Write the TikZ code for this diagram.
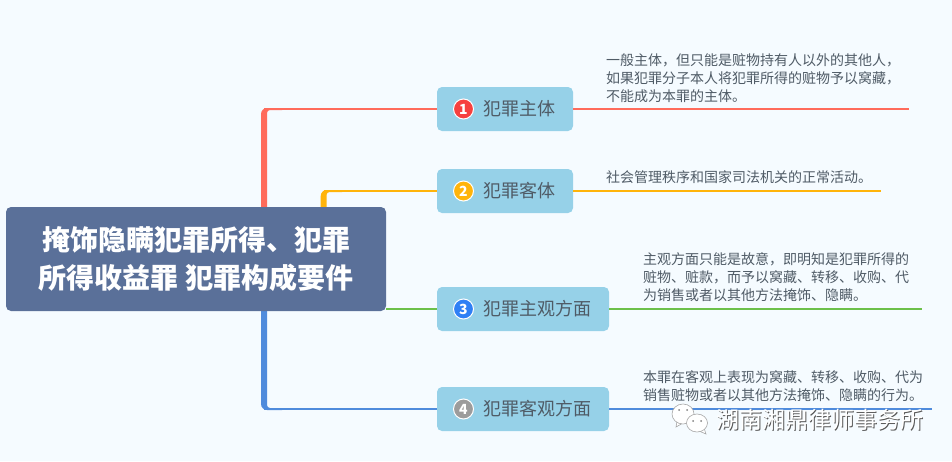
\documentclass[tikz,border=0pt]{standalone}
\usepackage{fontspec}
\usepackage{xcolor}
\usetikzlibrary{positioning}
\setmainfont{Noto Sans CJK SC}
\definecolor{paper}{HTML}{F5FBFF}
\definecolor{rootblue}{HTML}{5A7099}
\definecolor{boxblue}{HTML}{96D1E8}
\definecolor{inkgray}{HTML}{4F5B66}
\definecolor{linered}{HTML}{FF6B5B}
\definecolor{lineyellow}{HTML}{FFB40A}
\definecolor{linegreen}{HTML}{6CC04A}
\definecolor{lineblue}{HTML}{4F8BDC}
\definecolor{markred}{HTML}{F6403F}
\definecolor{markblue}{HTML}{2F80F5}
\definecolor{markgray}{HTML}{9C9C9C}

\begin{document}
\begin{tikzpicture}[x = 1pt, y = -1pt,
		root/.style = { fill = rootblue, text = white, rounded corners = 5pt, font = \fontsize{28}{38}\selectfont\bfseries, align = center, minimum width = 380pt, minimum height = 104pt, inner sep = 0pt, outer sep = 0pt },
		branch/.style = { fill = boxblue, text = inkgray, rounded corners = 5pt, font = \fontsize{18}{20}\selectfont, minimum height = 44pt, inner xsep = 18pt, inner ysep = 0pt, outer sep = 0pt, text height = 15pt, text depth = 3pt },
		badge/.style = { circle, draw = white, line width = 1pt, text = white, font = \fontsize{14}{14}\selectfont\bfseries, minimum width = 20pt, inner sep = 0pt },
		note/.style = { text = inkgray, font = \fontsize{14}{18}\selectfont, align = left, inner sep = 0pt },
		twig/.style = { line width = 2pt },
		bubble/.style = { draw = gray!70, fill = white, line width = .6pt }]
		\useasboundingbox (0, 0) rectangle (952, 461);
		\fill [paper] (0, 0) rectangle (952, 461);

		\coordinate (t1) at (264, 109);
		\coordinate (t2) at (323.5, 191);
		\coordinate (t4) at (264, 409);
		\coordinate (e1) at (909, 109);
		\coordinate (e2) at (881, 191);
		\coordinate (e3) at (922, 309);
		\coordinate (e4) at (932, 409);

		\node [branch, anchor = north west] (b1) at (437, 87) {\hspace{28pt}犯罪主体};
		\node [branch, below = 38pt of b1.south west, anchor = north west] (b2) {\hspace{28pt}犯罪客体};
		\node [branch, below = 74pt of b2.south west, anchor = north west] (b3) {\hspace{28pt}犯罪主观方面};
		\node [branch, below = 56pt of b3.south west, anchor = north west] (b4) {\hspace{28pt}犯罪客观方面};

		% thick part first, the root sits on top of it
		\fill [linered] (261, 225) [rounded corners = 6pt] -- (261, 108) [sharp corners] -- (282, 108) -- (282, 110) [rounded corners = 3pt] -- (267, 110) [sharp corners] -- (267, 225) -- cycle;
		\fill [lineyellow] (320.7, 225) [rounded corners = 6pt] -- (320.7, 190) [sharp corners] -- (342, 190) -- (342, 192) [rounded corners = 3pt] -- (326.5, 192) [sharp corners] -- (326.5, 225) -- cycle;
		\fill [lineblue] (261, 295) [rounded corners = 6pt] -- (261, 410) [sharp corners] -- (282, 410) -- (282, 408) [rounded corners = 3pt] -- (267, 408) [sharp corners] -- (267, 295) -- cycle;

		\node [root, anchor = north west] (root) at (6, 207) {掩饰隐瞒犯罪所得、犯罪\\所得收益罪 犯罪构成要件};

		\draw [linered, twig] (t1) -- (b1);
		\draw [lineyellow, twig] (t2) -- (b2);
		\draw [linegreen, twig] (root.south east |- b3.west) -- (b3);
		\draw [lineblue, twig] (t4) -- (b4);

		\draw [linered, twig] (b1) -- (e1);
		\draw [lineyellow, twig] (b2) -- (e2);
		\draw [linegreen, twig] (b3) -- (e3);
		\draw [lineblue, twig] (b4) -- (e4);

		\node [badge, fill = markred] (m1) at (463.5, 109) {1};
		\node [badge, fill = lineyellow] (m2) at (463.5, 191) {2};
		\node [badge, fill = markblue] (m3) at (463.5, 309) {3};
		\node [badge, fill = markgray] (m4) at (463.5, 409) {4};

		\node [note, anchor = west] (n1) at (606, 78) {一般主体，但只能是赃物持有人以外的其他人，\\如果犯罪分子本人将犯罪所得的赃物予以窝藏，\\不能成为本罪的主体。};
		\node [note, anchor = west] (n2) at (606, 177) {社会管理秩序和国家司法机关的正常活动。};
		\node [note, anchor = west] (n3) at (643, 277) {主观方面只能是故意，即明知是犯罪所得的\\赃物、赃款，而予以窝藏、转移、收购、代\\为销售或者以其他方法掩饰、隐瞒。};
		\node [note, anchor = west] (n4) at (643, 386) {本罪在客观上表现为窝藏、转移、收购、代为\\销售赃物或者以其他方法掩饰、隐瞒的行为。};

		% watermark
		\filldraw [bubble] (677, 421) -- (676, 427) -- (683, 423) -- cycle;
		\draw [bubble] (683, 414) ellipse [x radius = 11, y radius = 10];
		\filldraw [bubble] (704, 428) -- (706, 434) -- (699, 431) -- cycle;
		\draw [bubble] (697, 423) ellipse [x radius = 10.5, y radius = 9];
		\fill [gray] (679, 410) circle [radius = 1] (687, 410) circle [radius = 1] (693, 421) circle [radius = 1] (701, 421) circle [radius = 1];
		\node [text = gray!70!black, font = \fontsize{23}{24}\selectfont, inner sep = 0pt, anchor = west] (w1) at (716.8, 420.6) {湖南湘鼎律师事务所};
		\node [text = white, font = \fontsize{23}{24}\selectfont, inner sep = 0pt, anchor = west] (w2) at (716, 420) {湖南湘鼎律师事务所};
	\end{tikzpicture}
\end{document}
